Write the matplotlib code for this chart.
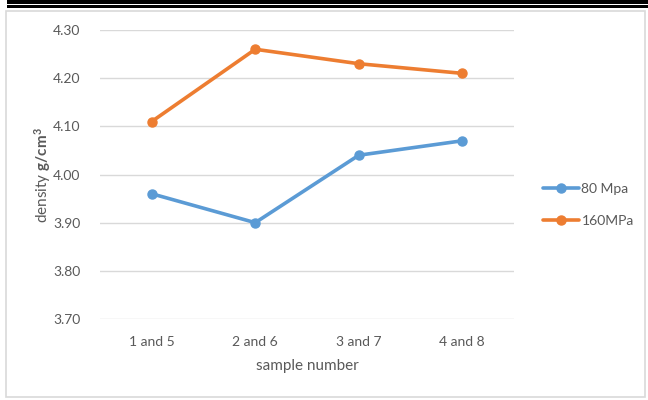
import matplotlib
matplotlib.use("Agg")
import matplotlib.pyplot as plt
from matplotlib.patches import Rectangle

categories = ["1 and 5", "2 and 6", "3 and 7", "4 and 8"]
s80 = [3.96, 3.90, 4.04, 4.07]
s160 = [4.11, 4.26, 4.23, 4.21]
yticks = [3.70, 3.80, 3.90, 4.00, 4.10, 4.20, 4.30]

plt.rcParams['font.family'] = ['Lato', 'DejaVu Sans']
plt.rcParams['mathtext.fontset'] = 'custom'
plt.rcParams['mathtext.rm'] = 'Lato'
plt.rcParams['mathtext.bf'] = 'Lato:bold'
txt = '#595959'

W, H = 648, 400
fig = plt.figure(figsize=(W/100, H/100), dpi=100)
fig.patch.set_facecolor('white')

# top black rules
fig.add_artist(Rectangle((7/W, 1 - 4.2/H), 1, 3.7/H, transform=fig.transFigure, color='black', lw=0))
fig.add_artist(Rectangle((7/W, 1 - 7.6/H), 1, 2.2/H, transform=fig.transFigure, color='black', lw=0))
# chart border
fig.add_artist(Rectangle((6/W, 1 - 397/H), (645-6)/W, (397-10.5)/H, transform=fig.transFigure,
                         fill=False, edgecolor='#D9D9D9', lw=1.2))

x0, x1 = 100, 514
ytop, ybot = 30, 319
ax = fig.add_axes([x0/W, 1 - ybot/H, (x1-x0)/W, (ybot-ytop)/H])
x = list(range(len(categories)))
ax.plot(x, s80, color='#5B9BD5', lw=2.6, marker='o', ms=6.5, label='80 Mpa', solid_capstyle='round')
ax.plot(x, s160, color='#ED7D31', lw=2.6, marker='o', ms=6.5, label='160MPa', solid_capstyle='round')
ax.set_xlim(-0.5, len(categories) - 0.5)
ax.set_ylim(3.70, 4.30)
ax.set_yticks(yticks)
ax.set_yticklabels([f"{v:.2f}" for v in yticks])
ax.set_xticks(x)
ax.set_xticklabels(categories)
ax.grid(axis='y', color='#D9D9D9', lw=1)
ax.set_axisbelow(True)
for s in ax.spines.values():
    s.set_visible(False)
ax.tick_params(length=0, colors=txt, labelsize=10)
ax.tick_params(axis='y', pad=14)
ax.tick_params(axis='x', pad=12)
ax.set_xlabel("sample number", color=txt, fontsize=11, labelpad=8)
ax.set_ylabel(r"density $\mathbf{g/cm^3}$", color=txt, fontsize=11, labelpad=0)
ax.yaxis.set_label_coords(-47/(x1-x0), (ybot-175)/(ybot-ytop))

leg = ax.legend(loc='center left', bbox_to_anchor=((530-x0)/(x1-x0), (ybot-205)/(ybot-ytop)),
                frameon=False, fontsize=10, handlelength=2.6, labelspacing=1.45, handletextpad=0.2)
for t in leg.get_texts():
    t.set_color(txt)

fig.savefig("out.png", dpi=100)
